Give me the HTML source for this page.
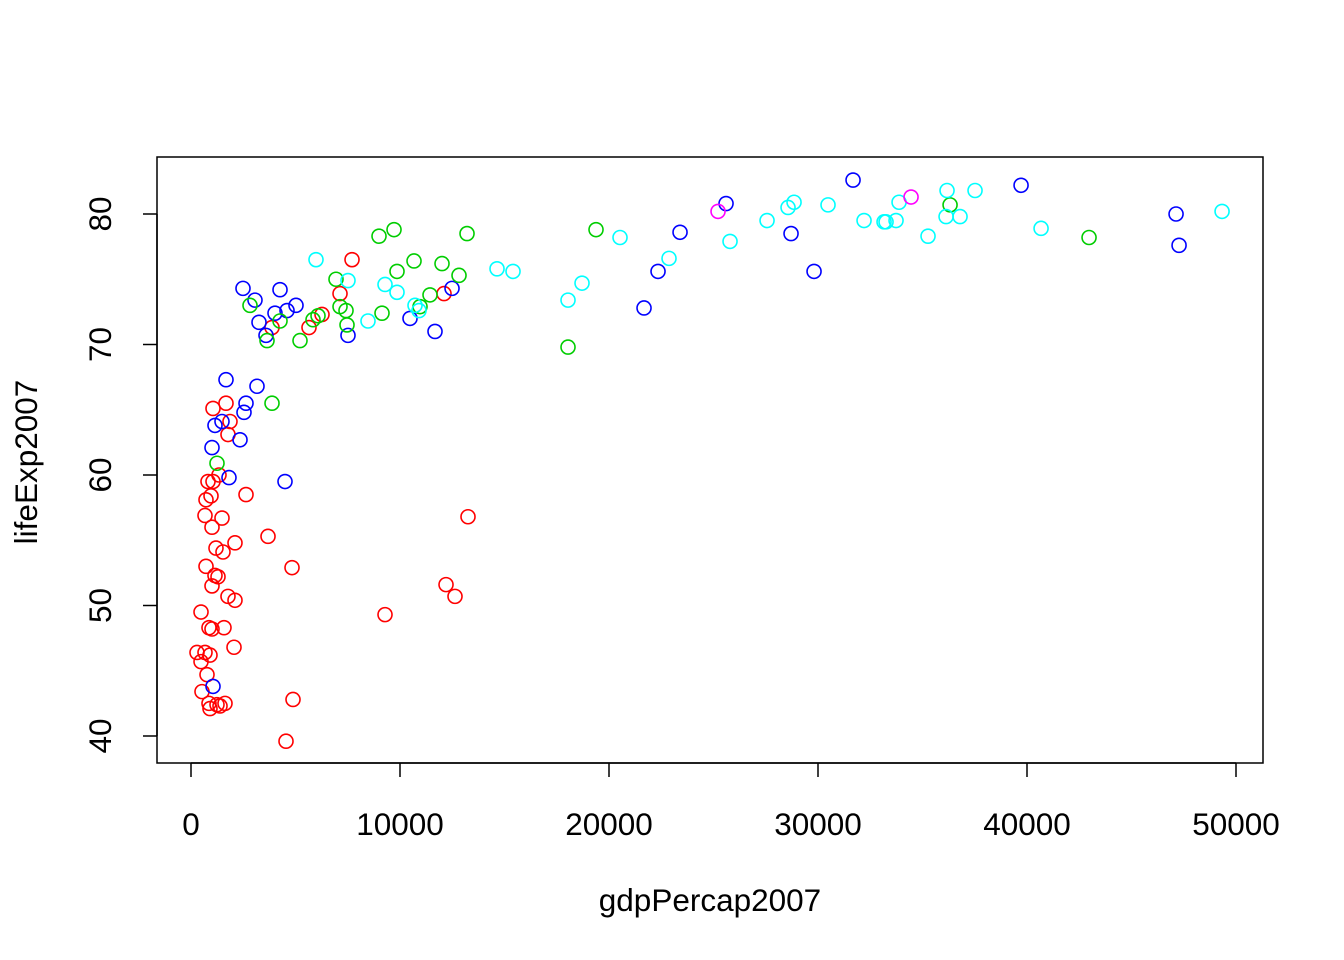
<!DOCTYPE html>
<html><head><meta charset="utf-8"><style>
html,body{margin:0;padding:0;background:#fff;}
svg{display:block;font-family:"Liberation Sans",Arial,sans-serif;}
</style></head><body>
<svg id="chart" width="1344" height="960" viewBox="0 0 1344 960" xmlns="http://www.w3.org/2000/svg">
<rect x="157" y="157" width="1106" height="606" fill="none" stroke="#000" stroke-width="1.5"/>
<g id="xaxis"></g>
<g id="yaxis"></g>
<g id="points"></g>
<text x="710" y="911" font-size="31.5" text-anchor="middle">gdpPercap2007</text>
<text transform="translate(37,462) rotate(-90)" font-size="31.5" text-anchor="middle">lifeExp2007</text>
</svg>
<script>
const xTicks=[0,10000,20000,30000,40000,50000];
const yTicks=[40,50,60,70,80];
const africaX=[287,479,526,479,670,766,861,909,909,1005,861,1244,1388,1627,1579,1005,1148,1292,1196,1005,1531,670,1483,718,957,813,1053,1340,1770,1866,1675,1053,718,1770,2105,2105,2058,2632,3685,4833,4881,4546,3876,5646,6268,7130,7704,9283,12106,12202,12632,13254];
const africaY=[46.4,45.7,43.4,49.5,46.4,44.7,48.3,46.2,42.1,48.2,42.5,42.4,42.3,42.5,48.3,51.5,52.3,52.2,54.4,56.0,54.1,56.9,56.7,58.1,58.4,59.5,59.5,60.0,63.1,64.1,65.5,65.1,53.0,50.7,50.4,54.8,46.8,58.5,55.3,52.9,42.8,39.6,71.3,71.3,72.3,73.9,76.5,49.3,73.9,51.6,50.7,56.8];
const americasX=[1053,1005,1148,1483,1675,1818,2345,2536,2632,3158,4498,2488,3062,3254,3589,4019,4259,4594,5024,7512,10479,11675,12489,21676,22346,23399,25600,28710,29811,31677,39716,47132,47276];
const americasY=[43.8,62.1,63.8,64.1,67.3,59.8,62.7,64.8,65.5,66.8,59.5,74.3,73.4,71.7,70.7,72.4,74.2,72.6,73.0,70.7,72.0,71.0,74.3,72.8,75.6,78.6,80.8,78.5,75.6,82.6,82.2,80.0,77.6];
const asiaX=[1244,2823,3876,3637,4259,5216,5838,6077,6938,7130,7417,7465,8996,9139,9714,9857,10671,10958,11436,12010,12824,13207,18039,19379,36319,42969];
const asiaY=[60.9,73.0,65.5,70.3,71.8,70.3,71.9,72.2,75.0,72.9,72.6,71.5,78.3,72.4,78.8,75.6,76.4,72.9,73.8,76.2,75.3,78.5,69.8,78.8,80.7,78.2];
const europeX=[5981,7512,8469,9283,9857,10718,10910,14642,15408,18039,18709,20527,22872,25791,27562,28566,28854,30480,32203,33160,33256,33734,33878,35265,36127,36174,36797,37514,40673,49333];
const europeY=[76.5,74.9,71.8,74.6,74.0,73.0,72.6,75.8,75.6,73.4,74.7,78.2,76.6,77.9,79.5,80.5,80.9,80.7,79.5,79.4,79.4,79.5,80.9,78.3,79.8,81.8,79.8,81.8,78.9,80.2];
const oceaniaX=[25217,34452];
const oceaniaY=[80.2,81.3];

const NS="http://www.w3.org/2000/svg";
const sx=v=>191+v*(1045/50000);
const sy=v=>736-(v-40)*(522/40);
function mk(tag,parent){const e=document.createElementNS(NS,tag);parent.appendChild(e);return e;}
const xa=document.getElementById('xaxis'),ya=document.getElementById('yaxis'),pg=document.getElementById('points');
let l=mk('line',xa);l.setAttribute('x1',sx(0));l.setAttribute('x2',sx(50000));l.setAttribute('y1',763);l.setAttribute('y2',763);l.setAttribute('stroke','#000');l.setAttribute('stroke-width','1.5');


xTicks.forEach(t=>{
 const k=mk('line',xa);k.setAttribute('x1',sx(t));k.setAttribute('x2',sx(t));k.setAttribute('y1',763);k.setAttribute('y2',777);k.setAttribute('stroke','#000');k.setAttribute('stroke-width','1.5');
 
 
 const tx=mk('text',xa);tx.setAttribute('x',sx(t));tx.setAttribute('y',835);tx.setAttribute('font-size','31.5');tx.setAttribute('text-anchor','middle');tx.textContent=t;
 
 
});
l=mk('line',ya);l.setAttribute('x1',157);l.setAttribute('x2',157);l.setAttribute('y1',sy(40));l.setAttribute('y2',sy(80));l.setAttribute('stroke','#000');l.setAttribute('stroke-width','1.5');


yTicks.forEach(t=>{
 const k=mk('line',ya);k.setAttribute('x1',143);k.setAttribute('x2',157);k.setAttribute('y1',sy(t));k.setAttribute('y2',sy(t));k.setAttribute('stroke','#000');k.setAttribute('stroke-width','1.5');
 
 
 const tx=mk('text',ya);tx.setAttribute('transform','translate(111,'+sy(t)+') rotate(-90)');tx.setAttribute('font-size','31.5');tx.setAttribute('text-anchor','middle');tx.textContent=t;
 
 
});
const series=[[africaX,africaY,'#FF0000','africa'],[americasX,americasY,'#0000FF','americas'],[asiaX,asiaY,'#00CD00','asia'],[europeX,europeY,'#00FFFF','europe'],[oceaniaX,oceaniaY,'#FF00FF','oceania']];
series.forEach(s=>{
 s[0].forEach((xv,i)=>{
  const c=mk('circle',pg);c.setAttribute('cx',sx(xv));c.setAttribute('cy',sy(s[1][i]));c.setAttribute('r',7);c.setAttribute('fill','none');c.setAttribute('stroke',s[2]);c.setAttribute('stroke-width','1.6');
  
  
 });
});
</script>
</body></html>
